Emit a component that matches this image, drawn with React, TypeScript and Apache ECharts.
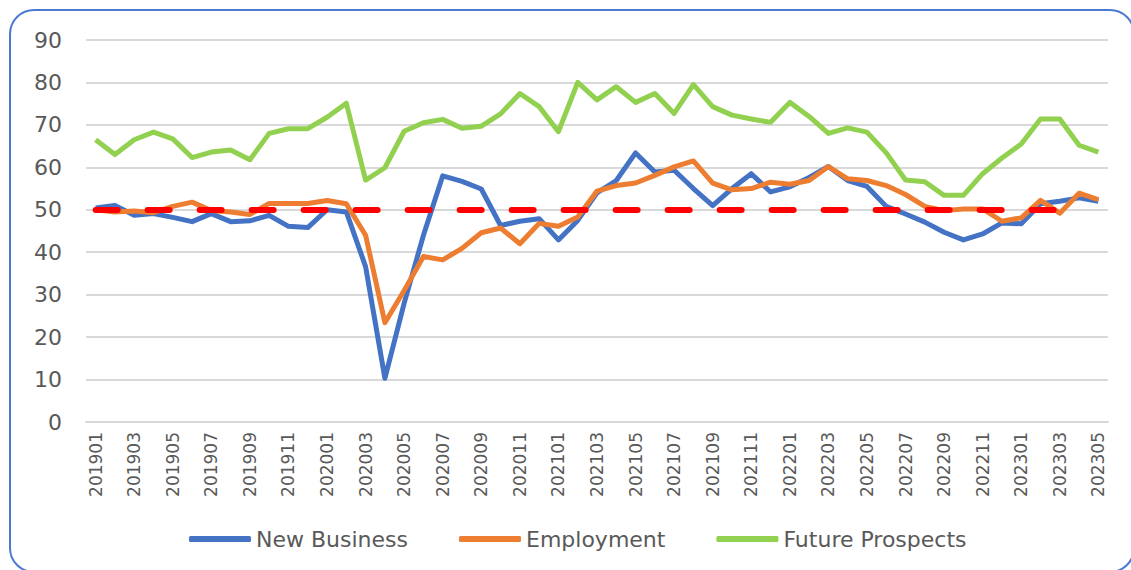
import React, { useEffect, useRef } from "react";
import * as echarts from "echarts";

const months: string[] = [
  "201901","201902","201903","201904","201905","201906","201907","201908","201909","201910","201911","201912",
  "202001","202002","202003","202004","202005","202006","202007","202008","202009","202010","202011","202012",
  "202101","202102","202103","202104","202105","202106","202107","202108","202109","202110","202111","202112",
  "202201","202202","202203","202204","202205","202206","202207","202208","202209","202210","202211","202212",
  "202301","202302","202303","202304","202305",
];

const newBusiness: number[] = [
  50.4, 51, 48.7, 49.1, 48.2, 47.2, 49.1, 47.2, 47.4, 48.7, 46.1, 45.8,
  50, 49.5, 36.6, 10.3, 28, 44, 58, 56.7, 54.9, 46.3, 47.3, 47.9,
  42.9, 47.5, 54, 56.9, 63.4, 58.9, 59.3, 55, 51, 55, 58.5, 54.2,
  55.4, 57.6, 60.2, 56.9, 55.5, 50.8, 49, 47.1, 44.7, 42.9, 44.3, 46.9,
  46.7, 51.4, 52, 52.8, 52,
];

const employment: number[] = [
  50, 49.5, 49.7, 49.3, 50.8, 51.8, 49.8, 49.5, 48.9, 51.5, 51.5, 51.5,
  52.2, 51.4, 44, 23.4, 31, 39, 38.2, 40.9, 44.6, 45.7, 42, 46.8,
  46.1, 48.3, 54.4, 55.7, 56.3, 58.1, 60.1, 61.5, 56.3, 54.7, 55, 56.5,
  56, 56.9, 60.2, 57.3, 56.9, 55.7, 53.6, 50.8, 49.8, 50.2, 50.2, 47.3,
  48.1, 52.2, 49.2, 53.9, 52.4,
];

const futureProspects: number[] = [
  66.5, 63, 66.5, 68.3, 66.7, 62.3, 63.6, 64.1, 61.8, 68, 69.1, 69.1,
  71.8, 75.1, 57, 59.9, 68.5, 70.5, 71.3, 69.2, 69.7, 72.6, 77.4, 74.3,
  68.4, 80, 75.9, 79, 75.3, 77.4, 72.7, 79.5, 74.3, 72.3, 71.4, 70.6,
  75.3, 72, 68, 69.3, 68.3, 63.4, 57, 56.6, 53.4, 53.4, 58.5, 62.2,
  65.5, 71.4, 71.4, 65.2, 63.6,
];

const referenceLevel = 50;
const referenceStart = "201901";
const referenceEnd = "202304";

const seriesNames = ["New Business", "Employment", "Future Prospects"];
const seriesColors = ["#4472C4", "#ED7D31", "#92D050"];

const TEXT = "#595959";
const FONT = "DejaVu Sans";

export default function App() {
  const ref = useRef<HTMLDivElement>(null);

  useEffect(() => {
    if (!ref.current) return;
    const chart = echarts.init(ref.current, undefined, { renderer: "svg" });
    const values = [newBusiness, employment, futureProspects];
    const option: any = {
      animation: false,
      backgroundColor: "#ffffff",
      graphic: [
        {
          type: "rect",
          shape: { x: 10, y: 10, width: 1124, height: 562, r: 24 },
          style: { fill: "none", stroke: "#4A7BD0", lineWidth: 2 },
          silent: true,
          z: 0,
        },
      ],
      grid: { left: 86, right: 23, top: 40, bottom: 148, containLabel: false },
      legend: {
        data: seriesNames,
        left: 184,
        top: 523,
        icon: "roundRect",
        itemWidth: 62,
        itemHeight: 6,
        itemGap: 51,
        textStyle: { color: TEXT, fontFamily: FONT, fontSize: 22 },
      },
      xAxis: {
        type: "category",
        data: months,
        boundaryGap: true,
        axisTick: { show: false },
        axisLine: { show: true, lineStyle: { color: "#D9D9D9", width: 2 } },
        axisLabel: {
          interval: 1,
          rotate: 90,
          color: TEXT,
          fontFamily: FONT,
          fontSize: 17,
          margin: 10,
        },
        splitLine: { show: false },
      },
      yAxis: {
        type: "value",
        min: 0,
        max: 90,
        interval: 10,
        axisLine: { show: false },
        axisTick: { show: false },
        axisLabel: { color: TEXT, fontFamily: FONT, fontSize: 22, margin: 24 },
        splitLine: { lineStyle: { color: "#D9D9D9", width: 2 } },
      },
      series: [
        ...seriesNames.map((name, i) => ({
          name,
          type: "line",
          data: values[i],
          symbol: "none",
          lineStyle: { color: seriesColors[i], width: 5, join: "round" },
          itemStyle: { color: seriesColors[i] },
          z: 3 + (i === 1 ? 1 : 0),
        })),
        {
          name: "Reference",
          type: "line",
          data: [],
          symbol: "none",
          z: 10,
          markLine: {
            silent: true,
            symbol: ["none", "none"],
            label: { show: false },
            lineStyle: { color: "#FF0000", width: 6, type: [22, 30], cap: "round" },
            data: [
              [
                { coord: [referenceStart, referenceLevel] },
                { coord: [referenceEnd, referenceLevel] },
              ],
            ],
          },
        },
      ],
    };
    chart.setOption(option);
    return () => chart.dispose();
  }, []);

  return (
    <div
      ref={ref}
      style={{ position: "fixed", left: 0, top: 0, width: 1131, height: 570 }}
    />
  );
}
